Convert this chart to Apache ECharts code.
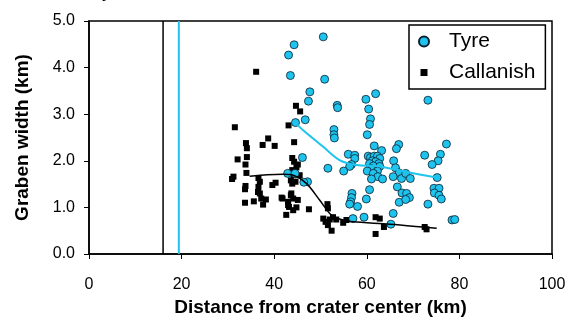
<!DOCTYPE html>
<html>
<head>
<meta charset="utf-8">
<script src="https://cdn.jsdelivr.net/npm/echarts@6/dist/echarts.min.js"></script>
<style>
html,body{margin:0;padding:0;background:#fff;}
#chart{width:572px;height:323px;}
</style>
</head>
<body>
<div id="chart"></div>
<script>
// ---- Data ----
var xTicks = [0, 20, 40, 60, 80, 100];
var yTicks = [0.0, 1.0, 2.0, 3.0, 4.0, 5.0];

var tyre = [
  [50.6,4.66],[44.3,4.49],[43.1,4.27],[43.5,3.83],[50.9,3.75],[47.7,3.48],[47.4,3.28],
  [53.6,3.19],[53.7,3.14],[46.7,2.88],[44.6,2.82],[52.9,2.67],[52.9,2.56],[53.0,2.49],
  [46.1,2.07],[61.9,3.44],[59.8,3.32],[73.2,3.30],[60.4,3.11],[60.8,2.90],[60.6,2.78],
  [60.1,2.56],[77.2,2.36],[66.9,2.35],[66.4,2.26],[61.6,2.32],[63.2,2.22],[75.9,2.14],
  [75.4,2.00],[74.1,1.92],[72.5,2.12],[75.2,1.64],[56.0,2.14],[57.4,2.12],[57.4,2.05],
  [56.7,1.92],[56.3,1.88],[51.6,1.84],[55.0,1.78],[42.9,1.73],[44.5,1.73],[47.2,1.55],
  [46.4,1.54],[60.3,2.10],[60.8,2.07],[61.6,2.10],[62.3,2.10],[62.8,2.05],[61.2,2.00],
  [61.9,1.98],[62.6,1.94],[60.6,1.94],[61.4,1.89],[62.8,1.88],[61.0,1.83],[62.3,1.78],
  [60.1,1.78],[61.4,1.73],[62.4,1.66],[61.0,1.61],[63.4,1.61],[65.8,2.00],[66.2,1.85],
  [67.0,1.74],[67.5,1.62],[68.4,1.73],[69.4,1.62],[65.7,1.66],[66.6,1.44],[67.6,1.31],
  [68.6,1.30],[69.2,1.21],[67.0,1.11],[68.4,1.17],[65.7,0.87],[65.2,0.64],[60.6,1.38],
  [59.9,1.18],[56.8,1.30],[56.7,1.21],[56.5,1.12],[56.3,1.07],[58.0,1.02],[57.0,0.76],
  [59.4,0.79],[74.5,1.41],[75.6,1.41],[74.6,1.31],[75.6,1.26],[76.1,1.18],[73.2,1.07],
  [78.4,0.73],[79.0,0.74]
];

var callanish = [
  [36.1,3.91],[44.7,3.18],[45.6,3.06],[43.1,2.76],[31.5,2.72],[38.7,2.48],[33.9,2.38],
  [37.5,2.34],[40.1,2.32],[44.3,2.40],[34.1,2.27],[34.1,2.08],[32.1,2.03],[43.9,2.06],
  [33.8,1.92],[34.0,1.74],[31.2,1.66],[30.9,1.61],[33.8,1.46],[33.7,1.39],[33.7,1.10],
  [35.6,1.13],[36.6,1.63],[36.9,1.55],[36.6,1.44],[36.5,1.33],[36.9,1.30],[37.2,1.19],
  [38.2,1.17],[37.6,1.06],[39.6,1.48],[40.3,1.53],[41.6,1.21],[44.3,1.98],[45.1,1.92],
  [44.8,1.86],[43.9,1.80],[44.2,1.69],[45.5,1.69],[43.6,1.58],[44.6,1.55],[46.6,1.53],
  [43.9,1.51],[41.8,1.19],[43.7,1.30],[44.1,1.19],[45.1,1.16],[43.0,1.05],[44.1,0.94],
  [44.8,1.00],[42.6,0.84],[47.5,0.96],[51.5,1.07],[51.6,0.98],[50.6,0.76],[51.1,0.69],
  [52.0,0.74],[52.7,0.79],[51.6,0.62],[52.4,0.50],[53.4,0.74],[54.9,0.67],[55.6,0.73],
  [61.9,0.79],[62.8,0.76],[61.9,0.43],[63.7,0.58],[72.5,0.58],[72.9,0.53],[43.6,1.26],
  [43.0,1.12],[43.2,1.01]
];

var tyreTrend = [[44.6,2.82],[46.2,2.66],[50.6,2.30],[54.2,2.01],[57.8,1.91],[62.8,1.88],[68.6,1.76],[75.1,1.64]];
var callanishTrend = [[34.7,1.67],[38.5,1.70],[41.9,1.71],[44.1,1.69],[47.0,1.51],[49.8,1.16],[52.4,0.83],[54.9,0.73],[57.0,0.69],[65.0,0.64],[72.9,0.57],[75.1,0.55]];

var craterRimCallanish = [[16.0,0],[16.0,5]];
var craterRimTyre = [[19.4,0],[19.4,5]];

// ---- Chart ----
var FONT = '"Liberation Sans", Arial, sans-serif';
var CYAN = '#1ec4ee';
var chart = echarts.init(document.getElementById('chart'), null, {renderer:'canvas'});
chart.setOption({
  animation: false,
  backgroundColor: '#fff',
  textStyle: {fontFamily: FONT, color: '#000'},
  grid: {left: 89, right: 20, top: 21, bottom: 69, show: true, borderColor: '#000', borderWidth: 1.5, backgroundColor: 'transparent'},
  graphic: [{type: 'text', left: 102, top: -19, style: {text: 'y', font: '20px ' + FONT, fill: '#000'}}],
  legend: {
    data: [
      {name: 'Tyre', icon: 'circle'},
      {name: 'Callanish', icon: 'path://M0,0M14,10M3.5,1.5L10.5,1.5L10.5,8.5L3.5,8.5Z'}
    ],
    orient: 'vertical',
    left: 409, top: 25,
    borderColor: '#000', borderWidth: 1.5,
    padding: [6, 10, 6, 8],
    itemWidth: 14, itemHeight: 10, itemGap: 10,
    textStyle: {fontSize: 21, fontFamily: FONT, color: '#000', padding: [0, 0, 0, 13]}
  },
  xAxis: {
    type: 'value', min: xTicks[0], max: xTicks[xTicks.length-1], interval: 20,
    name: 'Distance from crater center (km)', nameLocation: 'middle', nameGap: 44,
    nameTextStyle: {fontSize: 19, fontWeight: 'bold', fontFamily: FONT, color: '#000'},
    axisLine: {show: true, onZero: false, lineStyle: {color: '#000', width: 1.5}},
    axisTick: {show: true, inside: false, length: 5, lineStyle: {color: '#000', width: 1}},
    axisLabel: {fontSize: 16, margin: 23, color: '#000', fontFamily: FONT},
    splitLine: {show: false}
  },
  yAxis: {
    type: 'value', min: yTicks[0], max: yTicks[yTicks.length-1], interval: 1,
    name: 'Graben width (km)', nameLocation: 'middle', nameGap: 57,
    nameTextStyle: {fontSize: 19, fontWeight: 'bold', fontFamily: FONT, color: '#000'},
    axisLine: {show: true, onZero: false, lineStyle: {color: '#000', width: 1.5}},
    axisTick: {show: true, inside: false, length: 5, lineStyle: {color: '#000', width: 1}},
    axisLabel: {fontSize: 16, margin: 14, color: '#000', fontFamily: FONT, formatter: function(v){return v.toFixed(1);}},
    splitLine: {show: false}
  },
  series: [
    {name: 'rimC', type: 'line', data: craterRimCallanish, symbol: 'none', lineStyle: {color: '#000', width: 1.5}, silent: true},
    {name: 'rimT', type: 'line', data: craterRimTyre, symbol: 'none', lineStyle: {color: CYAN, width: 2}, silent: true},
    {name: 'Callanish', type: 'scatter', data: callanish, symbol: 'rect', symbolSize: 6, itemStyle: {color: '#000', opacity: 1}},
    {name: 'trendC', type: 'line', data: callanishTrend, smooth: 0.3, symbol: 'none', lineStyle: {color: '#000', width: 1.5}},
    {name: 'trendT', type: 'line', data: tyreTrend, smooth: 0.3, symbol: 'none', lineStyle: {color: CYAN, width: 2}},
    {name: 'Tyre', type: 'scatter', data: tyre, symbol: 'circle', symbolSize: 8, itemStyle: {color: CYAN, borderColor: '#0b2030', borderWidth: 0.8, opacity: 1}}
  ]
});
</script>
</body>
</html>
